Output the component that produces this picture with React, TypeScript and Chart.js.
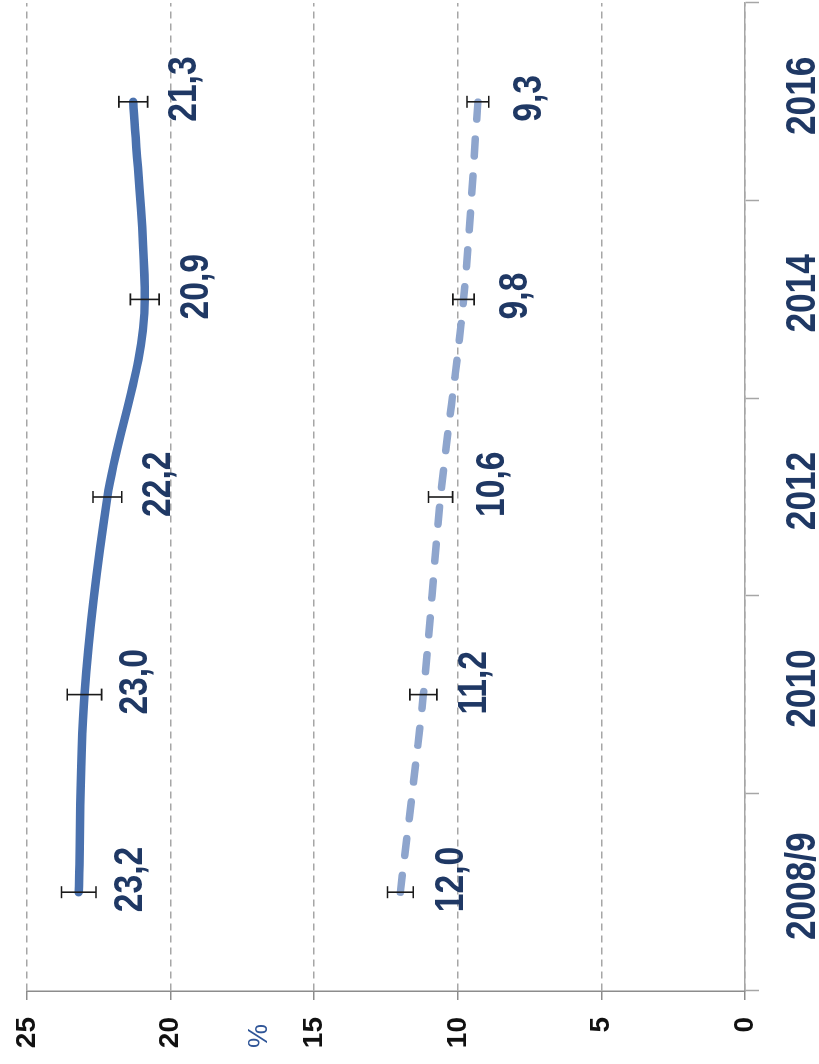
import React, { useEffect, useRef } from 'react';
import { Chart, registerables } from 'chart.js';

Chart.register(...registerables);

const categories = ['2008/9', '2010', '2012', '2014', '2016'];
const seriesA = [23.2, 23.0, 22.2, 20.9, 21.3];
const seriesAErr = [0.6, 0.6, 0.5, 0.5, 0.5];
const seriesB = [12.0, 11.2, 10.6, 9.8, 9.3];
const seriesBErr = [0.45, 0.47, 0.42, 0.37, 0.38];
const valueTicks = [0, 5, 10, 15, 20, 25];
const axisTitle = '%';

const W = 1064;
const H = 819;
const NARROW = 0.82;

const overlayPlugin = {
  id: 'overlay',
  afterDatasetsDraw(chart: any) {
    const { ctx, chartArea } = chart;
    const yScale = chart.scales.y;
    const xScale = chart.scales.x;
    // error bars
    chart.data.datasets.forEach((ds: any, i: number) => {
      const meta = chart.getDatasetMeta(i);
      meta.data.forEach((pt: any, j: number) => {
        const v = ds.data[j];
        const e = ds.errors[j];
        const yHi = yScale.getPixelForValue(v + e);
        const yLo = yScale.getPixelForValue(v - e);
        ctx.save();
        ctx.strokeStyle = '#1a1a1a';
        ctx.lineWidth = 1.6;
        ctx.beginPath();
        ctx.moveTo(pt.x, yHi);
        ctx.lineTo(pt.x, yLo);
        ctx.moveTo(pt.x - 6, yHi);
        ctx.lineTo(pt.x + 6, yHi);
        ctx.moveTo(pt.x - 6, yLo);
        ctx.lineTo(pt.x + 6, yLo);
        ctx.stroke();
        ctx.restore();
      });
    });
    // data labels
    chart.data.datasets.forEach((ds: any, i: number) => {
      const meta = chart.getDatasetMeta(i);
      meta.data.forEach((pt: any, j: number) => {
        const text = ds.data[j].toFixed(1).replace('.', ',');
        ctx.save();
        ctx.font = 'bold 41px "Liberation Sans", Arial, sans-serif';
        ctx.fillStyle = '#1f3864';
        ctx.textAlign = 'left';
        ctx.textBaseline = 'alphabetic';
        ctx.translate(pt.x - 20, pt.y + 63);
        ctx.scale(NARROW, 1);
        ctx.fillText(text, 0, 0);
        ctx.restore();
      });
    });
    // category labels (Arial Narrow look)
    categories.forEach((c, i) => {
      const x = xScale.getPixelForValue(i);
      ctx.save();
      ctx.font = 'bold 43px "Liberation Sans", Arial, sans-serif';
      ctx.fillStyle = '#1f3864';
      ctx.textAlign = 'center';
      ctx.textBaseline = 'alphabetic';
      ctx.translate(x + 6, chartArea.bottom + 70);
      ctx.scale(NARROW, 1);
      ctx.fillText(c, 0, 0);
      ctx.restore();
    });
    // axis title
    ctx.save();
    ctx.font = '27px "Liberation Sans", Arial, sans-serif';
    ctx.fillStyle = '#2f5597';
    ctx.textAlign = 'center';
    ctx.textBaseline = 'middle';
    ctx.fillText(axisTitle, chartArea.left - 45, yScale.getPixelForValue(16.9));
    ctx.restore();
  },
};

export default function App() {
  const ref = useRef<HTMLCanvasElement>(null);
  useEffect(() => {
    if (!ref.current) return;
    const chart = new Chart(ref.current, {
      type: 'line',
      data: {
        labels: categories,
        datasets: [
          {
            label: 'A',
            data: seriesA,
            errors: seriesAErr,
            borderColor: '#4a71ae',
            borderWidth: 8.5,
            cubicInterpolationMode: 'monotone',
            pointRadius: 0,
            borderCapStyle: 'round',
            borderJoinStyle: 'round',
            fill: false,
          } as any,
          {
            label: 'B',
            data: seriesB,
            errors: seriesBErr,
            borderColor: '#8ea5cd',
            borderWidth: 7.5,
            borderDash: [17, 20],
            cubicInterpolationMode: 'monotone',
            pointRadius: 0,
            borderCapStyle: 'round',
            borderJoinStyle: 'round',
            fill: false,
          } as any,
        ],
      },
      options: {
        animation: false,
        responsive: false,
        devicePixelRatio: 1,
        layout: { padding: { top: 27, right: 3, left: 0, bottom: 0 } },
        plugins: { legend: { display: false }, tooltip: { enabled: false } },
        scales: {
          x: {
            type: 'category',
            offset: true,
            afterFit: (s: any) => { s.height = 74; s.paddingLeft = 0; s.paddingRight = 0; },
            grid: { offset: true, drawOnChartArea: false, drawTicks: true, tickLength: 14, tickColor: '#a6a6a6', tickWidth: 1.5 },
            border: { display: true, color: '#a6a6a6', width: 1.5 },
            ticks: { display: false, autoSkip: false, maxRotation: 0 },
          },
          y: {
            min: 0,
            max: 25,
            afterBuildTicks: (s: any) => { s.ticks = valueTicks.map((v) => ({ value: v })); },
            afterFit: (s: any) => { s.width = 73; s.paddingTop = 0; s.paddingBottom = 0; },
            grid: { color: '#a6a6a6', lineWidth: 1.5, drawTicks: true, tickLength: 9, tickColor: '#8c8c8c', tickWidth: 1.5 },
            border: { display: true, color: '#8c8c8c', width: 1.5, dash: [7, 5] },
            ticks: {
              color: '#111111',
              font: { family: '"Liberation Sans", Arial, sans-serif', weight: 'bold', size: 28 },
              padding: 17,
            },
          },
        },
      } as any,
      plugins: [overlayPlugin],
    });
    return () => chart.destroy();
  }, []);

  return (
    <div style={{ position: 'absolute', left: 0, top: 0, width: 819, height: 1064, overflow: 'hidden', background: '#fff' }}>
      <div
        style={{
          position: 'absolute',
          left: 0,
          top: 0,
          width: W,
          height: H,
          transformOrigin: '0 0',
          transform: `translateY(${W}px) rotate(-90deg)`,
        }}
      >
        <canvas ref={ref} width={W} height={H} style={{ width: W, height: H, display: 'block' }} />
      </div>
    </div>
  );
}
